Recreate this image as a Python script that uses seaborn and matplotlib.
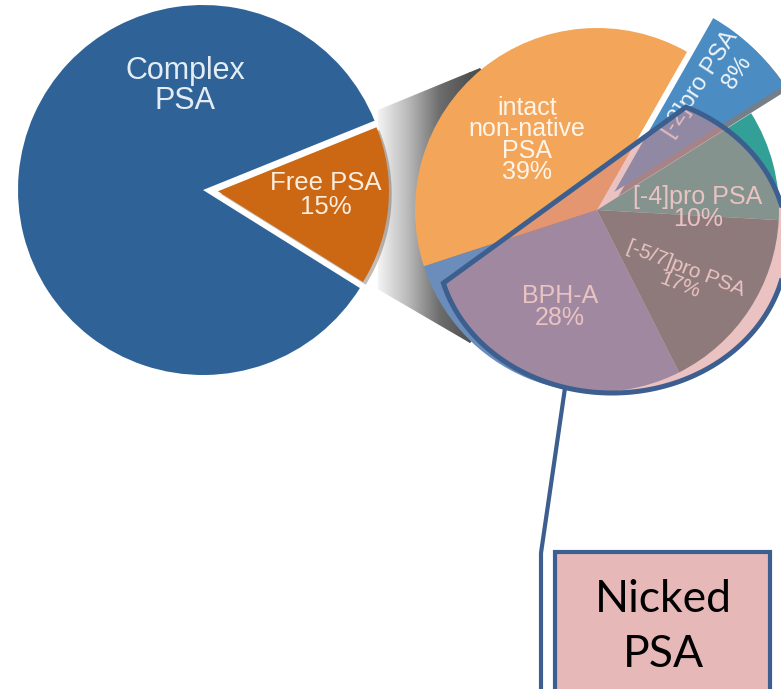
import numpy as np
import matplotlib
matplotlib.use("Agg")
import matplotlib.pyplot as plt
import matplotlib.patheffects as pe
from matplotlib.patches import Polygon, Rectangle
from matplotlib.colors import LinearSegmentedColormap
import seaborn as sns

# Total PSA split
total_labels = ["Free PSA", "Complex PSA"]
total_values = [15, 85]

# Free PSA subforms, counter-clockwise from the lower left
free_labels = ["BPH-A", "[-5/7]pro PSA", "[-4]pro PSA", "[-2]pro PSA",
               "intact\nnon-native\nPSA"]
free_values = [28, 17, 10, 8, 39]

box_text = "Nicked\nPSA"

total_colors = ["#cc6714", "#2f6398"]
free_colors = ["#6a8dbb", "#466e70", "#32a096", "#4b8cc3", "#f3a65a"]
edge_blue = "#3c5f8f"

W, H = 781, 689
sns.set_theme(style="white")
plt.rcParams["font.family"] = ["Liberation Sans", "DejaVu Sans"]

fig = plt.figure(figsize=(W / 100, H / 100), dpi=100)
ax = fig.add_axes([0, 0, 1, 1])


def P(x, y):
    """Canvas position measured from the top-left corner."""
    return (x, H - y)


# grey beam linking the Free PSA slice to its breakdown
beam = Polygon([P(373, 112), P(480, 68), P(597, 210), P(470, 343), P(362, 280)],
               closed=True, facecolor="none", edgecolor="none")
ax.add_patch(beam)
beam_cmap = LinearSegmentedColormap.from_list(
    "beam", ["#f4f4f4", "#b8b8b8", "#6e6e6e", "#505050"])
grad = np.linspace(0, 1, 256)[None, :]
im = ax.imshow(grad, cmap=beam_cmap, extent=[378, 470, H - 343, H - 68],
               aspect="auto", zorder=1)
im.set_clip_path(beam)
# keep the dark end of the beam behind the pie
ax.add_patch(Polygon([P(469, 60), P(600, 60), P(600, 360), P(469, 360)],
                     closed=True, facecolor="#505050", edgecolor="none",
                     zorder=0.9, clip_path=beam))

# total PSA pie
w1, _ = ax.pie(total_values, colors=total_colors, startangle=-32,
               explode=[15, 0], radius=185, center=P(203, 190),
               wedgeprops=dict(linewidth=0), frame=True)
w1[0].set_radius(171)
w1[0].set_path_effects([pe.SimplePatchShadow(offset=(2, -2), alpha=0.3), pe.Normal()])
for w in w1:
    w.set_zorder(2)

# Free PSA breakdown pie
w2, _ = ax.pie(free_values, colors=free_colors, startangle=-162,
               explode=[0, 0, 0, 25, 0], radius=182, center=P(597, 210),
               wedgeprops=dict(linewidth=0), frame=True)
for w in w2:
    w.set_zorder(2)
w2[3].set_radius(200)
w2[3].set_zorder(2.2)
w2[3].set_path_effects([pe.SimplePatchShadow(offset=(3, -3), alpha=0.6), pe.Normal()])

# slice labels
ax.text(*P(185, 86), "Complex\nPSA", ha="center", va="center", fontsize=22,
        color="#e4edf3", linespacing=1.0, zorder=3)
ax.text(*P(326, 195), "Free PSA\n15%", ha="center", va="center", fontsize=18.5,
        color="#fbeede", linespacing=0.95, zorder=3)
ax.text(*P(527, 140), free_labels[4] + f"\n{free_values[4]}%", ha="center",
        va="center", fontsize=18, color="#fdf5ea", linespacing=0.85, zorder=3)
ax.text(*P(698, 208), f"{free_labels[2]}\n{free_values[2]}%", ha="center",
        va="center", fontsize=18, color="white", linespacing=0.9, zorder=3)
ax.text(*P(683, 277), f"{free_labels[1]}\n{free_values[1]}%", ha="center",
        va="center", fontsize=15, color="white", linespacing=0.9,
        rotation=-21, rotation_mode="anchor", zorder=3)
ax.text(*P(560, 307), f"{free_labels[0]}\n{free_values[0]}%", ha="center",
        va="center", fontsize=18, color="white", linespacing=0.9, zorder=3)
# the exploded slice carries its name and share on two rotated lines
ax.text(*P(700, 84), free_labels[3], ha="center", va="center", fontsize=17,
        color="#eef4fa", rotation=57, rotation_mode="anchor", zorder=3)
ax.text(*P(737, 72), f"{free_values[3]}%", ha="center", va="center",
        fontsize=17, color="#eef4fa", rotation=57, rotation_mode="anchor",
        zorder=3)

# magnifier: ellipse cut by a straight chord
cx, cy, rx, ry = 612, 243, 175, 150
ax_pt, ay_pt = 443, 283
bx_pt, by_pt = 692, 102
t = np.linspace(0, 2 * np.pi, 1441) + np.deg2rad(53)
ex = cx + rx * np.cos(t)
ey = cy + ry * np.sin(t)
side = (bx_pt - ax_pt) * (ey - ay_pt) - (by_pt - ay_pt) * (ex - ax_pt)
ref = (bx_pt - ax_pt) * (cy - ay_pt) - (by_pt - ay_pt) * (cx - ax_pt)
keep = np.sign(side) == np.sign(ref)
mag_pts = np.column_stack([ex[keep], H - ey[keep]])

ax.add_patch(Polygon(mag_pts, closed=True, facecolor="#d78787", alpha=0.5,
                     edgecolor="none", zorder=4))
ax.add_patch(Polygon(mag_pts, closed=True, fill=False, edgecolor=edge_blue,
                     linewidth=3.6, joinstyle="miter", zorder=5))

# connector from the magnifier to the caption box
ax.plot([565, 541, 541], [H - 388, H - 553, -20], color=edge_blue,
        linewidth=3.0, solid_capstyle="butt", zorder=5)

ax.add_patch(Rectangle((555, H - 700), 215, 148, facecolor="#e6b8b7",
                       edgecolor=edge_blue, linewidth=3.0, zorder=5))
ax.text(663, H - 627, box_text, ha="center", va="center", fontsize=32,
        family=["Lato", "DejaVu Sans"], color="black", linespacing=1.45, zorder=6)

ax.set_xlim(0, W)
ax.set_ylim(0, H)
ax.axis("off")

fig.savefig("out.png", dpi=100)
